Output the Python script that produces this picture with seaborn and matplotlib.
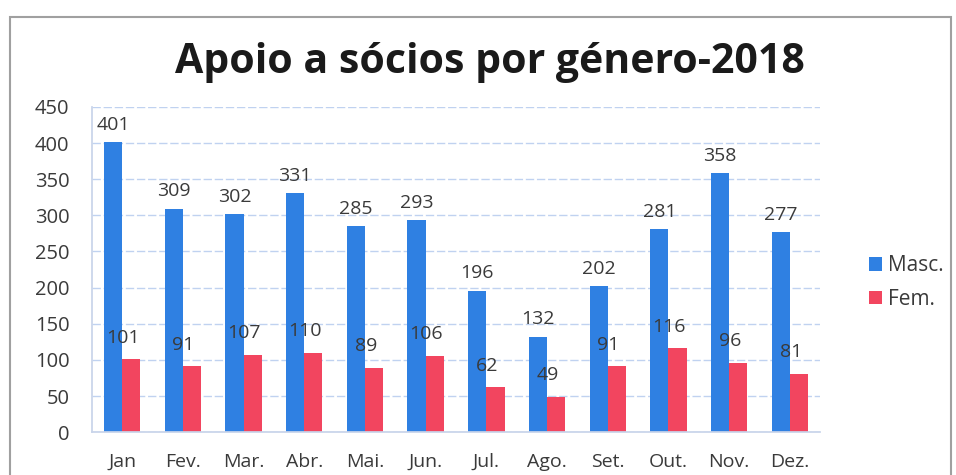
import matplotlib
matplotlib.use("Agg")
import matplotlib.pyplot as plt
import seaborn as sns
import pandas as pd
from matplotlib.patches import Rectangle

months = ["Jan", "Fev.", "Mar.", "Abr.", "Mai.", "Jun.", "Jul.", "Ago.", "Set.", "Out.", "Nov.", "Dez."]
masc = [401, 309, 302, 331, 285, 293, 196, 132, 202, 281, 358, 277]
fem = [101, 91, 107, 110, 89, 106, 62, 49, 91, 116, 96, 81]
series = ["Masc.", "Fem."]
colors = ["#2f80e2", "#f2455f"]

df = pd.DataFrame({
    "mes": months * 2,
    "valor": masc + fem,
    "genero": [series[0]] * len(months) + [series[1]] * len(months),
})

sns.set_theme(style="white")
plt.rcParams['font.family'] = ['Open Sans', 'DejaVu Sans']

fig = plt.figure(figsize=(9.56, 4.75), dpi=100)
ax = fig.add_axes([0.096, 0.09, 0.762, 0.685])

sns.barplot(data=df, x="mes", y="valor", hue="genero", palette=colors,
            width=0.6, ax=ax, legend=True, saturation=1, linewidth=0)

ax.set_ylim(0, 450)
ax.set_yticks(range(0, 451, 50))
ax.yaxis.grid(True, color="#c0d2f0", linestyle=(0, (6, 2)), linewidth=1)
ax.set_axisbelow(True)
for s in ["top", "right"]:
    ax.spines[s].set_visible(False)
ax.spines["left"].set_color("#c8d4ea")
ax.spines["bottom"].set_color("#c8d4ea")
ax.set_xlabel("")
ax.set_ylabel("")
ax.tick_params(axis="y", labelsize=14.5, colors="#3a3a3a", length=0, pad=16)
ax.tick_params(axis="x", labelsize=14, colors="#3a3a3a", length=0, pad=15)

anns_m = ax.bar_label(ax.containers[0], padding=6, fontsize=14, color="#3a3a3a")
anns_f = ax.bar_label(ax.containers[1], padding=9, fontsize=14, color="#3a3a3a")
for a in anns_f:
    a.xyann = (-6, 9)

ax.legend(loc="center left", bbox_to_anchor=(1.055, 0.46), frameon=False,
          fontsize=15, handlelength=0.65, handleheight=0.65, handletextpad=0.3,
          labelcolor="#3a3a3a", labelspacing=0.6, borderaxespad=0.0)

fig.text(0.512, 0.868, "Apoio a sócios por género-2018", ha="center", va="center",
         fontsize=29.5, fontweight="bold", color="#1a1a1a")

fig.patches.append(Rectangle((0.01, -0.02), 0.985, 0.985, transform=fig.transFigure,
                             fill=False, edgecolor="#a0a0a0", linewidth=1.5))

fig.savefig("out.png", dpi=100)
